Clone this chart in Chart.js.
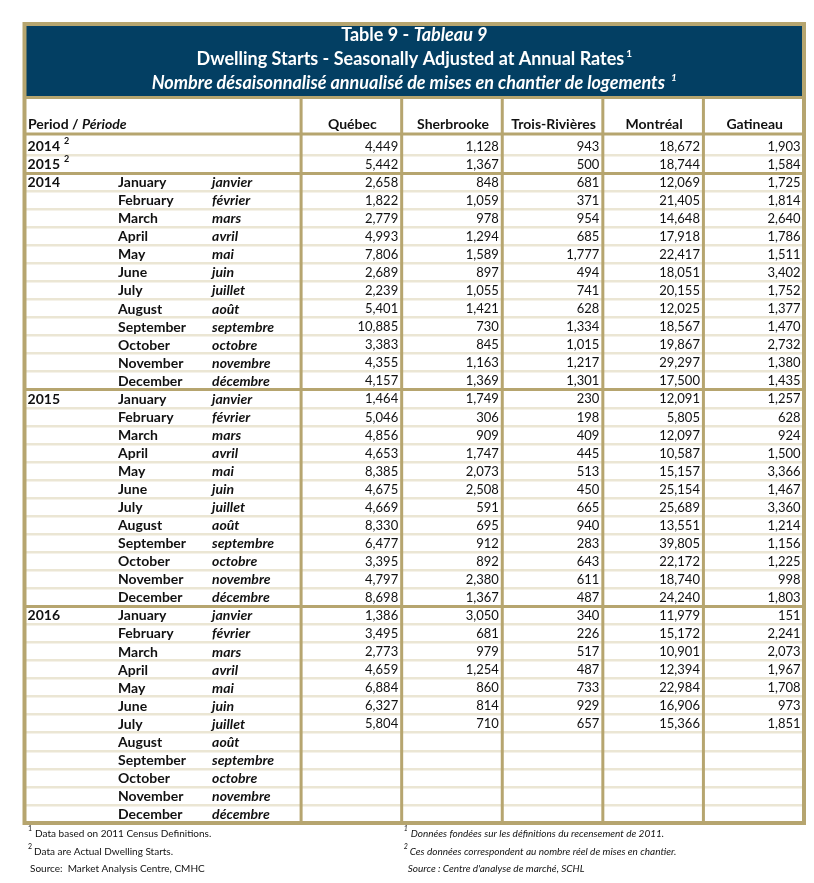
<!DOCTYPE html>
<html>
<head>
<meta charset="utf-8">
<script src="https://cdn.jsdelivr.net/npm/chart.js@4/dist/chart.umd.min.js"></script>
<style>
  body { margin: 0; background: #fff; }
  canvas { display: block; }
</style>
</head>
<body>
<canvas id="myTable" width="814" height="883"></canvas>
<script>
/** DATA */
var cities = ['Québec', 'Sherbrooke', 'Trois-Rivières', 'Montréal', 'Gatineau'];
var years = ['2014', '2015', '2016'];
var monthsEn = ['January', 'February', 'March', 'April', 'May', 'June', 'July', 'August', 'September', 'October', 'November', 'December'];
var monthsFr = ['janvier', 'février', 'mars', 'avril', 'mai', 'juin', 'juillet', 'août', 'septembre', 'octobre', 'novembre', 'décembre'];

// annual rows (2014, 2015), one value per city
var annual2014 = [4449, 1128, 943, 18672, 1903];
var annual2015 = [5442, 1367, 500, 18744, 1584];

// monthly, Jan 2014 .. Dec 2016 (null = not yet published)
var quebec = [2658, 1822, 2779, 4993, 7806, 2689, 2239, 5401, 10885, 3383, 4355, 4157,
              1464, 5046, 4856, 4653, 8385, 4675, 4669, 8330, 6477, 3395, 4797, 8698,
              1386, 3495, 2773, 4659, 6884, 6327, 5804, null, null, null, null, null];
var sherbrooke = [848, 1059, 978, 1294, 1589, 897, 1055, 1421, 730, 845, 1163, 1369,
                  1749, 306, 909, 1747, 2073, 2508, 591, 695, 912, 892, 2380, 1367,
                  3050, 681, 979, 1254, 860, 814, 710, null, null, null, null, null];
var troisRivieres = [681, 371, 954, 685, 1777, 494, 741, 628, 1334, 1015, 1217, 1301,
                     230, 198, 409, 445, 513, 450, 665, 940, 283, 643, 611, 487,
                     340, 226, 517, 487, 733, 929, 657, null, null, null, null, null];
var montreal = [12069, 21405, 14648, 17918, 22417, 18051, 20155, 12025, 18567, 19867, 29297, 17500,
                12091, 5805, 12097, 10587, 15157, 25154, 25689, 13551, 39805, 22172, 18740, 24240,
                11979, 15172, 10901, 12394, 22984, 16906, 15366, null, null, null, null, null];
var gatineau = [1725, 1814, 2640, 1786, 1511, 3402, 1752, 1377, 1470, 2732, 1380, 1435,
                1257, 628, 924, 1500, 3366, 1467, 3360, 1214, 1156, 1225, 998, 1803,
                151, 2241, 2073, 1967, 1708, 973, 1851, null, null, null, null, null];

var monthly = [quebec, sherbrooke, troisRivieres, montreal, gatineau];

/** rows of the table = category labels of the y axis */
var rowKeys = ['2014²', '2015²'];
years.forEach(function (yr) {
    monthsEn.forEach(function (m) { rowKeys.push(yr + ' ' + m); });
});

var NAVY = '#033f63';
var GOLD = '#b6a56f';
var BEIGE = '#ebe6d4';
var INK = '#111';
var FONT = "Lato, 'Open Sans', sans-serif";
var LBL = 'bold 14px ' + FONT;
var LBL_I = 'italic bold 14px ' + FONT;
var NUM = '13px ' + FONT;
var TTL = 'bold 18px ' + FONT;
var TTL_I = 'italic bold 18px ' + FONT;

var PERIOD_W = 2.75;              // width of first column, in city-column units
var colEdges = [0];
for (var i = 0; i <= cities.length; i++) colEdges.push(PERIOD_W + i);

function fmt(v) {
    return v == null ? '' : v.toLocaleString('en-US');
}

// draw runs of text with different fonts on one line
function drawRuns(ctx, runs, x, y, align) {
    var total = 0;
    runs.forEach(function (r) { ctx.font = r.font; total += ctx.measureText(r.text).width + (r.gap || 0); });
    var cx = align === 'center' ? x - total / 2 : (align === 'right' ? x - total : x);
    ctx.textAlign = 'left';
    runs.forEach(function (r) {
        ctx.font = r.font;
        cx += (r.gap || 0);
        ctx.fillText(r.text, cx, y + (r.dy || 0));
        cx += ctx.measureText(r.text).width;
    });
}

var tablePlugin = {
    id: 'tableDraw',
    afterDraw: function (chart) {
        var ctx = chart.ctx;
        var xs = chart.scales.x;
        var ys = chart.scales.y;
        var area = chart.chartArea;
        var left = xs.getPixelForValue(0);
        var right = xs.getPixelForValue(colEdges[colEdges.length - 1]);
        var top = 24, navyBottom = 97, headLine = 134;

        ctx.save();
        // title box
        ctx.fillStyle = NAVY;
        ctx.fillRect(left, top, right - left, navyBottom - top);
        ctx.strokeStyle = GOLD;
        ctx.lineWidth = 3;
        ctx.beginPath();
        ctx.moveTo(left, navyBottom + 0.5); ctx.lineTo(right, navyBottom + 0.5);
        ctx.moveTo(left, headLine); ctx.lineTo(right, headLine);
        ctx.stroke();

        // column separators
        ctx.lineWidth = 3;
        ctx.beginPath();
        for (var c = 1; c < colEdges.length - 1; c++) {
            var px = xs.getPixelForValue(colEdges[c]);
            ctx.moveTo(px, navyBottom); ctx.lineTo(px, area.bottom);
        }
        ctx.stroke();

        // outer frame
        ctx.lineWidth = 4;
        ctx.strokeRect(left, top, right - left, area.bottom - top);

        // title
        var mid = (left + right) / 2;
        ctx.fillStyle = '#fff';
        ctx.textBaseline = 'alphabetic';
        drawRuns(ctx, [
            { text: 'Table 9 - ', font: TTL },
            { text: 'Tableau 9', font: TTL_I }
        ], mid, 41, 'center');
        drawRuns(ctx, [
            { text: 'Dwelling Starts - Seasonally Adjusted at Annual Rates', font: TTL },
            { text: '1', font: 'bold 10px ' + FONT, dy: -8, gap: 2 }
        ], mid, 65, 'center');
        drawRuns(ctx, [
            { text: 'Nombre désaisonnalisé annualisé de mises en chantier de logements', font: TTL_I },
            { text: '1', font: 'italic bold 10px ' + FONT, dy: -8, gap: 6 }
        ], mid, 89, 'center');

        // header row
        ctx.fillStyle = INK;
        drawRuns(ctx, [
            { text: 'Period / ', font: LBL },
            { text: 'Période', font: LBL_I }
        ], left + 3.5, 129, 'left');
        ctx.font = LBL;
        ctx.textAlign = 'center';
        cities.forEach(function (name, k) {
            var cx = xs.getPixelForValue(colEdges[k + 1] + 0.5) + 1;
            ctx.fillText(name, cx, 129);
        });

        // body
        var yearX = xs.getPixelForValue(0.03);
        var enX = xs.getPixelForValue(0.93);
        var frX = xs.getPixelForValue(1.865);
        ctx.textBaseline = 'middle';
        rowKeys.forEach(function (key, r) {
            var y = ys.getPixelForValue(r) + 0.5;
            var values;
            if (r < 2) {
                drawRuns(ctx, [
                    { text: years[r], font: LBL },
                    { text: '2', font: 'bold 9px ' + FONT, dy: -5, gap: 4 }
                ], yearX, y, 'left');
                values = r === 0 ? annual2014 : annual2015;
            } else {
                var m = (r - 2) % 12;
                var yi = Math.floor((r - 2) / 12);
                ctx.textAlign = 'left';
                ctx.font = LBL;
                if (m === 0) ctx.fillText(years[yi], yearX, y);
                ctx.fillText(monthsEn[m], enX, y);
                ctx.font = LBL_I;
                ctx.fillText(monthsFr[m], frX, y);
                values = monthly.map(function (s) { return s[r - 2]; });
            }
            ctx.font = NUM;
            ctx.textAlign = 'right';
            values.forEach(function (v, k) {
                ctx.fillText(fmt(v), xs.getPixelForValue(colEdges[k + 2]) - 3.5, y);
            });
        });

        // footnotes
        ctx.textBaseline = 'alphabetic';
        ctx.textAlign = 'left';
        var fn = '10px ' + FONT, fi = 'italic 10px ' + FONT;
        drawRuns(ctx, [{ text: '1', font: '7px ' + FONT, dy: -6 }, { text: 'Data based on 2011 Census Definitions.', font: fn, gap: 3 }], left + 3.5, 837, 'left');
        drawRuns(ctx, [{ text: '2', font: '7px ' + FONT, dy: -6 }, { text: 'Data are Actual Dwelling Starts.', font: fn, gap: 2 }], left + 3.5, 855, 'left');
        drawRuns(ctx, [{ text: 'Source:  Market Analysis Centre, CMHC', font: fn }], left + 5.5, 872, 'left');
        var rx = xs.getPixelForValue(colEdges[2]) + 2;
        drawRuns(ctx, [{ text: '1', font: 'italic 7px ' + FONT, dy: -6 }, { text: 'Données fondées sur les définitions du recensement de 2011.', font: fi, gap: 3 }], rx, 837, 'left');
        drawRuns(ctx, [{ text: '2', font: 'italic 7px ' + FONT, dy: -6 }, { text: 'Ces données correspondent au nombre réel de mises en chantier.', font: fi, gap: 2 }], rx, 855, 'left');
        drawRuns(ctx, [{ text: "Source : Centre d'analyse de marché, SCHL", font: fi }], rx + 4, 872, 'left');
        ctx.restore();
    }
};

var myTable = document.getElementById('myTable').getContext('2d');
var table = new Chart(myTable, {
    type: 'bar',
    data: {
        labels: rowKeys,
        datasets: []
    },
    options: {
        responsive: false,
        animation: false,
        devicePixelRatio: 1,
        indexAxis: 'y',
        layout: {
            padding: { left: 24.5, right: 10, top: 137, bottom: 60 }
        },
        plugins: {
            legend: { display: false },
            tooltip: { enabled: false }
        },
        scales: {
            x: {
                type: 'linear',
                display: false,
                min: 0,
                max: colEdges[colEdges.length - 1]
            },
            y: {
                type: 'category',
                labels: rowKeys,
                offset: true,
                ticks: { display: false },
                border: { display: false },
                grid: {
                    offset: true,
                    drawTicks: false,
                    color: function (c) {
                        var i = c.index;
                        if (i === undefined || i === 0) return 'rgba(0,0,0,0)';
                        if (i === 2 || i === 14 || i === 26) return GOLD;
                        return BEIGE;
                    },
                    lineWidth: function (c) {
                        var i = c.index;
                        if (i === 2 || i === 14 || i === 26) return 3;
                        return 2.5;
                    }
                }
            }
        }
    },
    plugins: [tablePlugin]
});
</script>
</body>
</html>
